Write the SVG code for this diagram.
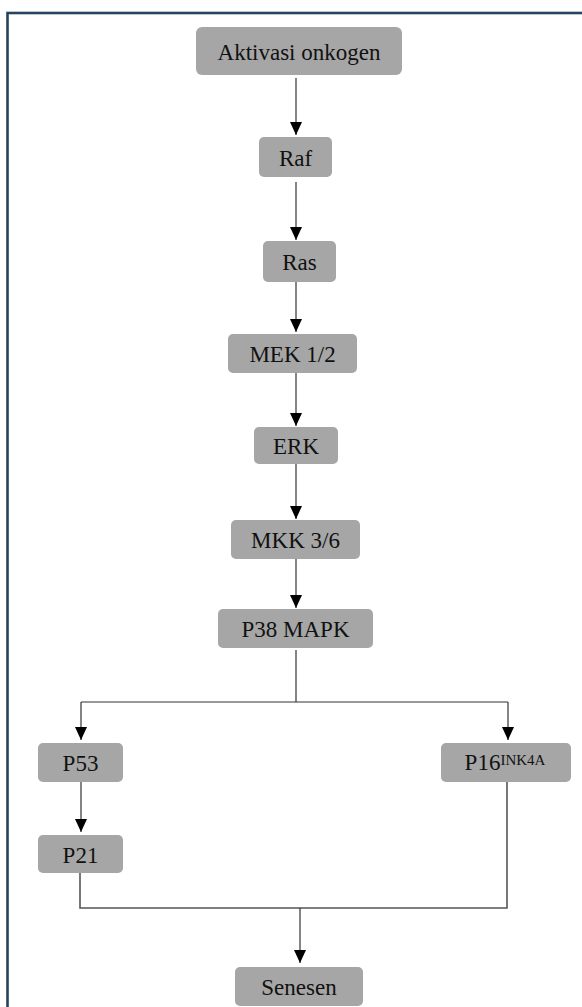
<svg xmlns="http://www.w3.org/2000/svg" width="582" height="1007" viewBox="0 0 582 1007">
<style>
.box{fill:#a6a6a6;}
.lbl{font-family:'Liberation Serif','Times New Roman',Times,serif;font-size:23px;fill:#111;text-anchor:middle;}
.sup{font-size:15px;}
.ln{fill:none;stroke:#333;stroke-width:1.2;}
.ln2{fill:none;stroke:#555;stroke-width:1.6;}
</style>
<defs>
<marker id="ah" viewBox="0 0 13 12" refX="13" refY="6" markerWidth="13" markerHeight="12" markerUnits="userSpaceOnUse" orient="auto">
<path d="M0,0 L13,6 L0,12 z" fill="#000"/>
</marker>
</defs>
<rect width="582" height="1007" fill="#fff"/>
<rect x="7.5" y="13" width="600" height="1010" fill="none" stroke="#24445f" stroke-width="2.6"/>
<g id="connectors">
<path class="ln" d="M296,78 V135" marker-end="url(#ah)"/>
<path class="ln" d="M296,182 V240" marker-end="url(#ah)"/>
<path class="ln" d="M296,282 V332" marker-end="url(#ah)"/>
<path class="ln" d="M296,373 V426" marker-end="url(#ah)"/>
<path class="ln" d="M296,464 V519" marker-end="url(#ah)"/>
<path class="ln" d="M296,559 V608" marker-end="url(#ah)"/>
<path class="ln" d="M296,650 V702"/>
<path class="ln" d="M81,702 H508"/>
<path class="ln" d="M81,702 V740" marker-end="url(#ah)"/>
<path class="ln" d="M508,702 V740" marker-end="url(#ah)"/>
<path class="ln" d="M81,782 V832" marker-end="url(#ah)"/>
<path class="ln2" d="M80,873 V908 H507 V782"/>
<path class="ln" d="M300,908 V963" marker-end="url(#ah)"/>
</g>
<g font-family="Liberation Serif, Times New Roman, serif">
<g id="n-aktivasi"><rect class="box" x="196" y="27" width="206" height="48" rx="6"/><text class="lbl" x="299" y="60">Aktivasi onkogen</text></g>
<g id="n-raf"><rect class="box" x="259" y="137" width="73" height="40" rx="5"/><text class="lbl" x="295.5" y="165.5">Raf</text></g>
<g id="n-ras"><rect class="box" x="263" y="241" width="73" height="41" rx="5"/><text class="lbl" x="299.5" y="270">Ras</text></g>
<g id="n-mek"><rect class="box" x="228" y="334" width="129" height="39" rx="5"/><text class="lbl" x="292.5" y="362">MEK 1/2</text></g>
<g id="n-erk"><rect class="box" x="254" y="427" width="84" height="37" rx="5"/><text class="lbl" x="296" y="454">ERK</text></g>
<g id="n-mkk"><rect class="box" x="231" y="520" width="129" height="39" rx="5"/><text class="lbl" x="295.5" y="548">MKK 3/6</text></g>
<g id="n-p38"><rect class="box" x="218" y="609" width="155" height="39" rx="5"/><text class="lbl" x="295.5" y="637">P38 MAPK</text></g>
<g id="n-p53"><rect class="box" x="38" y="743" width="85" height="39" rx="5"/><text class="lbl" x="80.5" y="771">P53</text></g>
<g id="n-p21"><rect class="box" x="38" y="835" width="85" height="38" rx="5"/><text class="lbl" x="80.5" y="863">P21</text></g>
<g id="n-p16"><rect class="box" x="441" y="743" width="130" height="39" rx="5"/><text class="lbl" x="505" y="770">P16<tspan class="sup" dy="-5">INK4A</tspan></text></g>
<g id="n-senesen"><rect class="box" x="235" y="967" width="128" height="39" rx="5"/><text class="lbl" x="299" y="995">Senesen</text></g>
</g>
</svg>
